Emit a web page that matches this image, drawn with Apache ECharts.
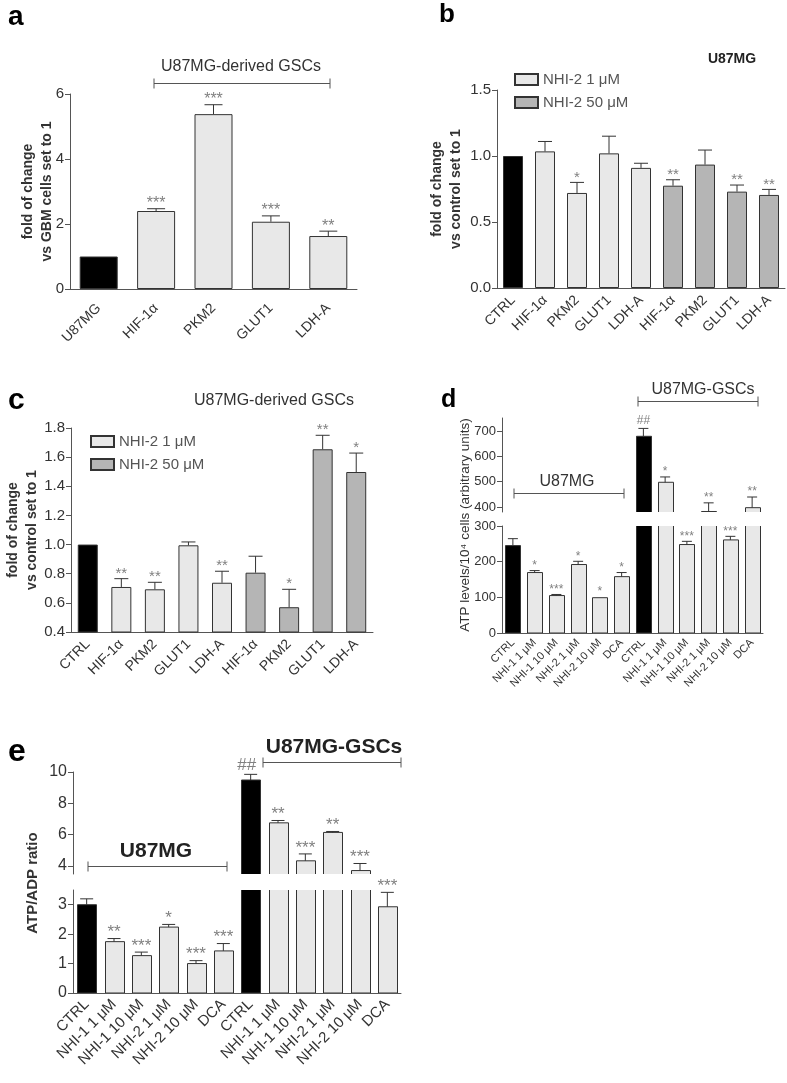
<!DOCTYPE html>
<html><head><meta charset="utf-8">
<script src="https://cdn.jsdelivr.net/npm/echarts@6/dist/echarts.min.js"></script>
<style>html,body{margin:0;padding:0;background:#fff}#main{width:787px;height:1083px}</style>
</head><body><div id="main"></div>
<script>
// ---------------- DATA ----------------
// Panel a
const aCategories = ['U87MG', 'HIF-1α', 'PKM2', 'GLUT1', 'LDH-A'];
const aValues = [1.0, 2.4, 5.38, 2.07, 1.63];
const aErrTop = [1.0, 2.47, 5.67, 2.25, 1.78];
const aStars = ['', '***', '***', '***', '**'];
const aGroups = ['ctrl', 'low', 'low', 'low', 'low'];

// Panel b (U87MG)
const bCategories = ['CTRL', 'HIF-1α', 'PKM2', 'GLUT1', 'LDH-A', 'HIF-1α', 'PKM2', 'GLUT1', 'LDH-A'];
const bValues = [1.0, 1.035, 0.72, 1.02, 0.91, 0.775, 0.935, 0.73, 0.705];
const bErrTop = [1.005, 1.11, 0.80, 1.15, 0.945, 0.82, 1.045, 0.78, 0.747];
const bStars = ['', '', '*', '', '', '**', '', '**', '**'];
const bGroups = ['ctrl', 'low', 'low', 'low', 'low', 'high', 'high', 'high', 'high'];

// Panel c (U87MG-derived GSCs)
const cCategories = ['CTRL', 'HIF-1α', 'PKM2', 'GLUT1', 'LDH-A', 'HIF-1α', 'PKM2', 'GLUT1', 'LDH-A'];
const cValues = [1.0, 0.709, 0.693, 0.995, 0.738, 0.807, 0.57, 1.654, 1.498];
const cErrTop = [1.005, 0.766, 0.741, 1.018, 0.817, 0.92, 0.693, 1.75, 1.628];
const cStars = ['', '**', '**', '', '**', '', '*', '**', '*'];
const cGroups = ['ctrl', 'low', 'low', 'low', 'low', 'high', 'high', 'high', 'high'];

// Panel d (ATP levels)
const dCategories = ['CTRL', 'NHI-1 1 μM', 'NHI-1 10 μM', 'NHI-2 1 μM', 'NHI-2 10 μM', 'DCA',
                     'CTRL', 'NHI-1 1 μM', 'NHI-1 10 μM', 'NHI-2 1 μM', 'NHI-2 10 μM', 'DCA'];
const dValues = [245, 169.5, 105, 192, 99, 158, 678, 497, 248, 382, 261, 397];
const dErrTop = [264.5, 175, 108, 201, 101, 169.5, 709, 518, 257, 416, 271, 439];
const dStars = ['', '*', '***', '*', '*', '*', '##', '*', '***', '**', '***', '**'];
const dGroups = ['ctrl', 'low', 'low', 'low', 'low', 'low', 'ctrl', 'low', 'low', 'low', 'low', 'low'];

// Panel e (ATP/ADP ratio)
const eCategories = dCategories;
const eValues = [3.0, 1.745, 1.27, 2.24, 1.0, 1.43, 9.49, 6.76, 4.34, 6.15, 3.72, 2.93];
const eErrTop = [3.2, 1.85, 1.39, 2.33, 1.1, 1.68, 9.85, 6.91, 4.78, 6.21, 4.17, 3.42];
const eStars = ['', '**', '***', '*', '***', '***', '##', '**', '***', '**', '***', '***'];
const eGroups = dGroups;

// ---------------- STYLE / BUILD ----------------
const FONT = '"Liberation Sans", Arial, Helvetica, sans-serif';
const AX = '#555';
const COL = { ctrl: '#000000', low: '#e8e8e8', high: '#b5b5b5' };

const grids = [], xAxes = [], yAxes = [], series = [];

function makeErr(cfg) {
  return function (params, api) {
    const i = api.value(0), v = api.value(1), t = api.value(2);
    const p0 = api.coord([i, v]);
    const p1 = api.coord([i, t]);
    const cs = params.coordSys;
    if (p0[1] < cs.y - 0.6 || p0[1] > cs.y + cs.height + 0.6) return null;
    const hw = cfg.capWidth / 2;
    const ch = [];
    if (p1[1] < p0[1] - 0.8) {
      ch.push({ type: 'line', shape: { x1: p0[0], y1: p0[1], x2: p1[0], y2: p1[1] }, style: { stroke: '#333', lineWidth: 1 } });
      ch.push({ type: 'line', shape: { x1: p1[0] - hw, y1: p1[1], x2: p1[0] + hw, y2: p1[1] }, style: { stroke: '#333', lineWidth: 1 } });
    }
    const s = cfg.stars[params.dataIndex];
    if (s) {
      const isHash = s.indexOf('#') >= 0;
      ch.push({ type: 'text', style: {
        text: s, x: p1[0] + (isHash ? cfg.hashDx || 0 : 0), y: p1[1] - (isHash ? cfg.starGap + 3 : cfg.starGap),
        align: 'center', verticalAlign: 'middle', fill: '#808080',
        fontSize: cfg.starSize, fontFamily: FONT } });
    }
    return { type: 'group', children: ch };
  };
}

function makeBar(cfg) {
  return function (params, api) {
    const i = api.value(0), v = api.value(1);
    const top = api.coord([i, v]);
    const base = api.coord([i, 0]);
    const w = cfg.barWidth;
    const g = cfg.groups[params.dataIndex];
    return { type: 'rect',
      shape: { x: Math.round(top[0] - w / 2) + 0.5, y: top[1], width: w, height: base[1] - top[1] },
      style: { fill: COL[g], stroke: '#333', lineWidth: 1 } };
  };
}

function addGrid(cfg) {
  const gi = grids.length;
  grids.push(Object.assign({ containLabel: false }, cfg.grid));
  xAxes.push({
    gridIndex: gi, type: 'category', data: cfg.categories, show: cfg.showX !== false,
    axisLine: { lineStyle: { color: AX, width: 1 } },
    axisTick: { alignWithLabel: true, length: 5, lineStyle: { color: AX } },
    axisLabel: { interval: 0, rotate: 45, fontSize: cfg.labelSize || 14, color: '#333', fontFamily: FONT, margin: cfg.labelMargin || 10 }
  });
  const ya = {
    gridIndex: gi, type: 'value', min: cfg.min, max: cfg.max, interval: cfg.interval,
    splitLine: { show: false },
    axisLine: { show: cfg.yLine !== false, lineStyle: { color: AX, width: 1 } },
    axisTick: { show: cfg.yTicks !== false, length: 5, lineStyle: { color: AX } },
    axisLabel: { show: cfg.yLabels !== false, fontSize: cfg.ySize || 14, color: '#333', fontFamily: FONT, margin: 6,
      showMaxLabel: cfg.showMaxLabel !== false,
      formatter: cfg.decimals ? (v => v.toFixed(cfg.decimals)) : (v => String(v)) }
  };
  if (cfg.name) {
    ya.name = cfg.name; ya.nameLocation = 'middle'; ya.nameGap = cfg.nameGap; ya.nameMoveOverlap = false;
    ya.nameTextStyle = { fontSize: 14, fontWeight: 'bold', color: '#333', fontFamily: FONT, lineHeight: 19 };
  }
  yAxes.push(ya);
  if (cfg.values) {
    if (cfg.customBars) {
      series.push({
        type: 'custom', name: cfg.id + '-bars', xAxisIndex: gi, yAxisIndex: gi, clip: true, silent: true,
        animation: false, z: 2,
        data: cfg.values.map((v, i) => [i, v]),
        renderItem: makeBar(cfg)
      });
    } else {
      ['ctrl', 'low', 'high'].forEach(g => {
        if (cfg.groups.indexOf(g) < 0) return;
        series.push({
          type: 'bar', name: (cfg.names && cfg.names[g]) || (cfg.id + '-' + g),
          xAxisIndex: gi, yAxisIndex: gi, barWidth: cfg.barWidth, barGap: '-100%',
          data: cfg.values.map((v, i) => cfg.groups[i] === g ? v : '-'),
          itemStyle: { color: COL[g], borderColor: '#333', borderWidth: 1 },
          clip: true, silent: true, animation: false
        });
      });
    }
    series.push({
      type: 'custom', xAxisIndex: gi, yAxisIndex: gi, z: 5, silent: true, animation: false, clip: false,
      data: cfg.values.map((v, i) => [i, v, cfg.errTop[i]]),
      renderItem: makeErr(cfg)
    });
  }
  return gi;
}

const legNames = { low: 'NHI-2 1 μM', high: 'NHI-2 50 μM' };

// a
addGrid({ id: 'a', grid: { left: 70, top: 94, width: 287, height: 195 }, categories: aCategories,
  min: 0, max: 6, interval: 2, values: aValues, errTop: aErrTop, stars: aStars, groups: aGroups,
  barWidth: 38, capWidth: 18, starSize: 16, starGap: 5, labelSize: 14, ySize: 15, labelMargin: 17,
  name: 'fold of change\nvs GBM cells set to 1', nameGap: 13 });
// b
addGrid({ id: 'b', grid: { left: 497, top: 90, width: 288, height: 198 }, categories: bCategories,
  min: 0, max: 1.5, interval: 0.5, decimals: 1, values: bValues, errTop: bErrTop, stars: bStars, groups: bGroups,
  names: legNames, barWidth: 20, capWidth: 14, starSize: 15, starGap: 5, labelSize: 14, ySize: 15,
  name: 'fold of change\nvs control set to 1', nameGap: 31 });
// c
addGrid({ id: 'c', grid: { left: 71, top: 428, width: 302, height: 204 }, categories: cCategories,
  min: 0.4, max: 1.8, interval: 0.2, decimals: 1, values: cValues, errTop: cErrTop, stars: cStars, groups: cGroups,
  names: legNames, barWidth: 20, capWidth: 14, starSize: 15, starGap: 5, labelSize: 14, ySize: 15,
  name: 'fold of change\nvs control set to 1', nameGap: 29 });
// d lower
addGrid({ id: 'dl', grid: { left: 502, top: 526, width: 261, height: 107 }, categories: dCategories,
  min: 0, max: 300, interval: 100, values: dValues, errTop: dErrTop, stars: dStars, groups: dGroups, customBars: true,
  barWidth: 15, capWidth: 10, starSize: 12, starGap: 5, labelSize: 11, ySize: 13, labelMargin: 8 });
// d upper (data)
addGrid({ id: 'du', grid: { left: 502, top: 418, width: 261, height: 94 }, categories: dCategories, showX: false,
  min: 380, max: 750, yTicks: false, yLabels: false, customBars: true,
  values: dValues, errTop: dErrTop, stars: dStars, groups: dGroups,
  barWidth: 15, capWidth: 10, starSize: 12, starGap: 5 });
// d upper (axis ticks / labels)
addGrid({ id: 'dt', grid: { left: 502, top: 431, width: 261, height: 76 }, categories: dCategories, showX: false,
  min: 400, max: 700, interval: 100, yLine: false, ySize: 13 });
// e lower
addGrid({ id: 'el', grid: { left: 73, top: 890, width: 328, height: 103 }, categories: eCategories,
  min: 0, max: 3.5, interval: 1, showMaxLabel: false, values: eValues, errTop: eErrTop, stars: eStars, groups: eGroups,
  customBars: true, barWidth: 19, capWidth: 13, starSize: 17, starGap: 6, labelSize: 15, ySize: 16, labelMargin: 9 });
// e upper (data)
addGrid({ id: 'eu', grid: { left: 73, top: 772, width: 328, height: 102 }, categories: eCategories, showX: false,
  min: 3.5, max: 10, yTicks: false, yLabels: false, customBars: true,
  values: eValues, errTop: eErrTop, stars: eStars, groups: eGroups,
  barWidth: 19, capWidth: 13, starSize: 17, starGap: 6, hashDx: -4 });
// e upper (axis ticks / labels)
addGrid({ id: 'et', grid: { left: 73, top: 772, width: 328, height: 94 }, categories: eCategories, showX: false,
  min: 4, max: 10, interval: 2, yLine: false, ySize: 16 });

// ---------------- ANNOTATIONS ----------------
function txt(t, x, y, size, weight, color, extra) {
  return Object.assign({ type: 'text', x: x, y: y, silent: true, z: 50, style: {
    text: t, fontSize: size, fontWeight: weight || 'normal', fill: color || '#333', fontFamily: FONT,
    align: 'center', verticalAlign: 'middle' } }, extra || {});
}
function letter(t, x, y, size) {
  const o = txt(t, x, y, size, 'bold', '#000');
  o.style.align = 'left';
  return o;
}
function bracket(x1, x2, y) {
  const st = { stroke: '#555', lineWidth: 1 };
  return { type: 'group', silent: true, children: [
    { type: 'line', shape: { x1: x1, y1: y, x2: x2, y2: y }, style: st },
    { type: 'line', shape: { x1: x1, y1: y - 5, x2: x1, y2: y + 5 }, style: st },
    { type: 'line', shape: { x1: x2, y1: y - 5, x2: x2, y2: y + 5 }, style: st }
  ] };
}
const graphic = [
  letter('a', 8, 17, 28), letter('b', 439, 15, 26), letter('c', 8, 401, 30),
  letter('d', 441, 400, 25), letter('e', 8, 752, 32),
  txt('U87MG-derived GSCs', 241, 67, 16), bracket(154, 330, 83.5),
  txt('U87MG', 732, 59, 14, 'bold', '#222'),
  txt('U87MG-derived GSCs', 274, 401, 16),
  txt('U87MG', 567, 482, 16), bracket(514, 624, 493.5),
  txt('U87MG-GSCs', 703, 390, 16), bracket(638, 758, 401.5),
  txt('U87MG', 156, 851, 21, 'bold', '#222'), bracket(88, 227, 866.5),
  txt('U87MG-GSCs', 334, 747, 21, 'bold', '#222'), bracket(263, 401, 762.5),
  txt('ATP levels/10⁴ cells (arbitrary units)', 465, 525, 13.5, 'normal', '#333', { rotation: Math.PI / 2 }),
  txt('ATP/ADP ratio', 33, 883, 15, 'bold', '#333', { rotation: Math.PI / 2 })
];

const legendCommon = {
  orient: 'vertical', icon: 'rect', itemWidth: 23, itemHeight: 11, itemGap: 8,
  selectedMode: false, data: ['NHI-2 1 μM', 'NHI-2 50 μM'],
  textStyle: { fontSize: 15, color: '#555', fontFamily: FONT }
};

const chart = echarts.init(document.getElementById('main'), null, { renderer: 'canvas' });
chart.setOption({
  backgroundColor: '#ffffff',
  animation: false,
  grid: grids, xAxis: xAxes, yAxis: yAxes, series: series,
  legend: [
    Object.assign({ left: 509, top: 67 }, legendCommon),
    Object.assign({ left: 85, top: 429 }, legendCommon)
  ],
  graphic: graphic
});
</script></body></html>
